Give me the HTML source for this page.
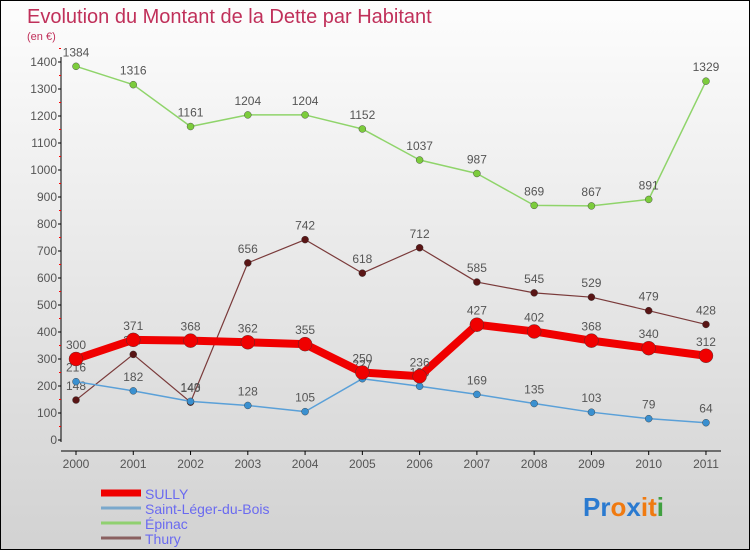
<!DOCTYPE html>
<html><head><meta charset="utf-8"><style>
body{margin:0}
#c{width:750px;height:550px;position:relative;background:linear-gradient(#fdfdfd,#d2d2d2);border:1px solid #000;box-sizing:border-box;overflow:hidden;font-family:"Liberation Sans","DejaVu Sans",sans-serif}
</style></head><body>
<div id="c">
<svg id="s" width="750" height="550">
<text x="26" y="22" font-size="20" fill="#c0305a">Evolution du Montant de la Dette par Habitant</text>
<text x="26" y="39" font-size="11" fill="#c0305a">(en €)</text>
</svg>
</div>
<script>
const years=['2000','2001','2002','2003','2004','2005','2006','2007','2008','2009','2010','2011'];
const yTicks=[0,100,200,300,400,500,600,700,800,900,1000,1100,1200,1300,1400];
const sully=[300,371,368,362,355,250,236,427,402,368,340,312];
const stleger=[216,182,143,128,105,227,199,169,135,103,79,64];
const epinac=[1384,1316,1161,1204,1204,1152,1037,987,869,867,891,1329];
const thury=[148,317,140,656,742,618,712,585,545,529,479,428];
const svg=document.getElementById('s');const NS='http://www.w3.org/2000/svg';
const X=i=>75+i*57.27, Y=v=>439-v*0.27;
function mk(t,a,p){const e=document.createElementNS(NS,t);for(const k in a)e.setAttribute(k,a[k]);(p||svg).appendChild(e);return e;}
const ax=mk('g',{});


mk('line',{x1:60,y1:56,x2:60,y2:441,stroke:'#000'},ax);
yTicks.forEach(v=>{mk('line',{x1:57,x2:60,y1:Y(v),y2:Y(v),stroke:'#000'},ax);
 mk('line',{x1:58,x2:60,y1:Y(v+50),y2:Y(v+50),stroke:'red'},ax);
 const t=mk('text',{x:56,y:Y(v)+4,'text-anchor':'end','font-size':12,fill:'#555'},ax);t.textContent=v;});
const xa=mk('g',{});


mk('line',{x1:60,y1:450,x2:720,y2:450,stroke:'#000'},xa);
years.forEach((y,i)=>{mk('line',{x1:X(i),x2:X(i),y1:450,y2:454,stroke:'#000'},xa);
 const t=mk('text',{x:X(i),y:467,'text-anchor':'middle','font-size':12,fill:'#555'},xa);t.textContent=y;});
function series(name,d,col,w,r,dot){const g=mk('g',{});
 
 
 mk('polyline',{points:d.map((v,i)=>X(i)+','+Y(v)).join(' '),fill:'none',stroke:col,'stroke-width':w,'stroke-linejoin':'round'},g);
 d.forEach((v,i)=>{mk('circle',{cx:X(i),cy:Y(v),r:r,fill:dot,stroke:'#333','stroke-width':0.4},g);
  const t=mk('text',{x:X(i),y:Y(v)-10,'text-anchor':'middle','font-size':12,fill:'#555'},g);t.textContent=v;});}
series('series-epinac',epinac,'#8fd46a',1.5,3.5,'#7ccc3c');
series('series-thury',thury,'#7a3a3a',1.2,3.5,'#5a1515');
series('series-saint-leger',stleger,'#5aa0d8',1.5,3.5,'#3a90d0');
series('series-sully',sully,'#f00000',8,7,'#f00000');
const lg=[['SULLY','#f00000',7],['Saint-Léger-du-Bois','#7aa8cc',3],['Épinac','#90d070',3],['Thury','#8a6060',3]];
lg.forEach((l,i)=>{const g=mk('g',{});
 
 
 const y=492+i*15;mk('line',{x1:100,x2:140,y1:y,y2:y,stroke:l[1],'stroke-width':l[2]},g);
 const t=mk('text',{x:144,y:y+6,'font-size':14,fill:'#6a6af0'},g);t.textContent=l[0];});
const lo=mk('text',{x:582,y:515,'font-size':26,'font-weight':'bold'});


lo.innerHTML='<tspan fill="#2a7ad0">Pr</tspan><tspan fill="#f07a10">o</tspan><tspan fill="#2a7ad0">x</tspan><tspan fill="#f07a10">i</tspan><tspan fill="#f07a10">t</tspan><tspan fill="#40a040">i</tspan>';
</script>
</body></html>
